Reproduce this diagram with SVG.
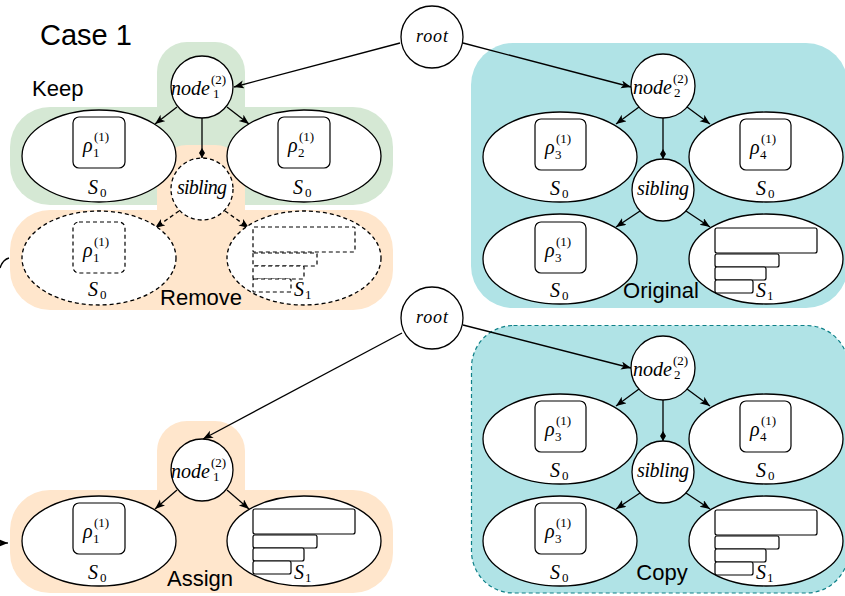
<svg xmlns="http://www.w3.org/2000/svg" width="845" height="596" viewBox="0 0 845 596">
<style>
.ell{fill:#fff;stroke:#000;stroke-width:1.3}
.dash{stroke-dasharray:4 3}
.box{fill:#fff;stroke:#000;stroke-width:1.2}
.bar{fill:#fff;stroke:#000;stroke-width:1.2}
.mi{font-family:"Liberation Serif","Times New Roman",serif;font-style:italic;font-size:20px;fill:#000}
.sm{font-family:"Liberation Serif","Times New Roman",serif;font-size:13px;fill:#000}
.lbl{font-family:"Liberation Sans",Arial,sans-serif;font-size:22px;fill:#000}
.edge{fill:none;stroke:#000;stroke-width:1.3}
</style>
<defs>
<marker id="arr" markerUnits="userSpaceOnUse" markerWidth="12" markerHeight="10" refX="10" refY="4" orient="auto">
<path d="M0,0 L10,4 L0,8 L2.5,4 Z" fill="#000"/>
</marker>
<marker id="dia" markerUnits="userSpaceOnUse" markerWidth="12" markerHeight="8" refX="10" refY="3" orient="auto">
<path d="M0,3 L5,0 L10,3 L5,6 Z" fill="#000"/>
</marker>
</defs>
<rect width="845" height="596" fill="#fff"/>

<g id="backgrounds">
<rect x="157" y="42" width="88" height="120" rx="30" fill="#d5e8d4"/>
<rect x="10" y="107" width="383" height="98" rx="40" fill="#d5e8d4"/>
<rect x="157" y="145" width="88" height="100" rx="30" fill="#ffe6cc"/>
<rect x="10" y="210" width="383" height="100" rx="40" fill="#ffe6cc"/>
<rect x="471" y="43" width="377" height="265" rx="42" fill="#b0e3e6"/>
<rect x="157" y="421" width="88" height="100" rx="30" fill="#ffe6cc"/>
<rect x="10" y="490" width="383" height="103" rx="40" fill="#ffe6cc"/>
<rect x="471.5" y="325.5" width="377" height="267.5" rx="42" fill="#b0e3e6" stroke="#0e8088" stroke-width="1.2" stroke-dasharray="4 3"/>
</g>

<g id="labels">
<text class="lbl" x="40" y="45" style="font-size:29px">Case 1</text>
<text class="lbl" x="32" y="96">Keep</text>
<text class="lbl" x="201" y="305" text-anchor="middle">Remove</text>
<text class="lbl" x="661" y="298" text-anchor="middle">Original</text>
<text class="lbl" x="200" y="586" text-anchor="middle">Assign</text>
<text class="lbl" x="662" y="580" text-anchor="middle">Copy</text>
</g>

<g id="connectors">
<path class="edge" d="M400,43 L234,87" marker-end="url(#arr)"/>
<path class="edge" d="M463,43 L631,87" marker-end="url(#arr)"/>
<path class="edge" d="M402,333 L203,439" marker-end="url(#arr)"/>
<path class="edge" d="M463,325 L631,368" marker-end="url(#arr)"/>
<path class="edge" d="M177,107 L155,124" marker-end="url(#arr)"/>
<path class="edge" d="M227,107 L249,124" marker-end="url(#arr)"/>
<path class="edge" d="M202,118 L202,158" marker-end="url(#dia)"/>
<path class="edge dash" d="M179,211 L155,228" marker-end="url(#arr)"/>
<path class="edge dash" d="M225,211 L249,228" marker-end="url(#arr)"/>
<path class="edge" d="M639,107 L616,124" marker-end="url(#arr)"/>
<path class="edge" d="M687,107 L710,124" marker-end="url(#arr)"/>
<path class="edge" d="M663,118 L663,159" marker-end="url(#dia)"/>
<path class="edge" d="M640,211 L616,227" marker-end="url(#arr)"/>
<path class="edge" d="M686,211 L710,227" marker-end="url(#arr)"/>
<path class="edge" d="M639,389 L616,406" marker-end="url(#arr)"/>
<path class="edge" d="M687,389 L710,406" marker-end="url(#arr)"/>
<path class="edge" d="M663,400 L663,441" marker-end="url(#dia)"/>
<path class="edge" d="M640,493 L616,509" marker-end="url(#arr)"/>
<path class="edge" d="M686,493 L710,509" marker-end="url(#arr)"/>
<path class="edge" d="M177,490 L155,509" marker-end="url(#arr)"/>
<path class="edge" d="M227,490 L249,509" marker-end="url(#arr)"/>
<path class="edge" d="M0,268 C2,262 5,259 9,258"/>
<path class="edge" d="M-12,543 L8,543" marker-end="url(#arr)"/>
</g>

<!-- Keep / Remove block -->
<g id="root1">
<circle class="ell" cx="432" cy="37" r="31"/>
<text class="mi" x="432" y="42" text-anchor="middle" textLength="32" lengthAdjust="spacing" style="font-size:18px">root</text>
</g>
<g id="node1a">
<circle class="ell" cx="202" cy="87" r="31"/>
<text class="mi" x="171" y="95" textLength="39" lengthAdjust="spacing">node</text>
<text class="sm" x="211" y="84">(2)</text>
<text class="sm" x="213" y="98">1</text>
</g>
<g id="keepS0a">
<ellipse class="ell" cx="99" cy="156" rx="77" ry="46"/>
<rect class="box" x="73" y="117" width="52" height="51" rx="6"/>
<text class="mi" x="83" y="152">ρ</text><text class="sm" x="94" y="141">(1)</text><text class="sm" x="93" y="157">1</text>
<text class="mi" x="88" y="194">S</text><text class="sm" x="100" y="197">0</text>
</g>
<g id="keepS0b">
<ellipse class="ell" cx="304" cy="156" rx="77" ry="46"/>
<rect class="box" x="278" y="117" width="52" height="51" rx="6"/>
<text class="mi" x="288" y="152">ρ</text><text class="sm" x="299" y="141">(1)</text><text class="sm" x="298" y="157">2</text>
<text class="mi" x="293" y="194">S</text><text class="sm" x="305" y="197">0</text>
</g>
<g id="sibling1">
<circle class="ell dash" cx="202" cy="189" r="31"/>
<text class="mi" x="202" y="194" text-anchor="middle" textLength="50" lengthAdjust="spacing">sibling</text>
</g>
<g id="removeS0">
<ellipse class="ell dash" cx="99" cy="258" rx="77" ry="47"/>
<rect class="box dash" x="73" y="222" width="52" height="51" rx="6"/>
<text class="mi" x="83" y="257">ρ</text><text class="sm" x="94" y="246">(1)</text><text class="sm" x="93" y="262">1</text>
<text class="mi" x="88" y="296">S</text><text class="sm" x="100" y="299">0</text>
</g>
<g id="removeS1">
<ellipse class="ell dash" cx="304" cy="258" rx="77" ry="47"/>
<rect class="bar dash" x="253" y="227" width="102" height="25" rx="1"/>
<rect class="bar dash" x="253" y="253" width="64" height="13" rx="1"/>
<rect class="bar dash" x="253" y="266" width="51" height="13" rx="1"/>
<rect class="bar dash" x="253" y="279" width="38" height="13" rx="1"/>
<text class="mi" x="294" y="296">S</text><text class="sm" x="305" y="299">1</text>
</g>

<!-- Original block -->
<g id="node2a">
<circle class="ell" cx="663" cy="86" r="32"/>
<text class="mi" x="633" y="94" textLength="39" lengthAdjust="spacing">node</text>
<text class="sm" x="673" y="83">(2)</text>
<text class="sm" x="674" y="97">2</text>
</g>
<g id="origS0a">
<ellipse class="ell" cx="560" cy="157" rx="77" ry="45"/>
<rect class="box" x="535" y="119" width="51" height="51" rx="6"/>
<text class="mi" x="545" y="154">ρ</text><text class="sm" x="556" y="143">(1)</text><text class="sm" x="555" y="159">3</text>
<text class="mi" x="550" y="195">S</text><text class="sm" x="562" y="198">0</text>
</g>
<g id="origS0b">
<ellipse class="ell" cx="766" cy="157" rx="77" ry="45"/>
<rect class="box" x="740" y="119" width="51" height="51" rx="6"/>
<text class="mi" x="750" y="154">ρ</text><text class="sm" x="761" y="143">(1)</text><text class="sm" x="760" y="159">4</text>
<text class="mi" x="756" y="195">S</text><text class="sm" x="768" y="198">0</text>
</g>
<g id="sibling2">
<circle class="ell" cx="663" cy="190" r="31"/>
<text class="mi" x="663" y="195" text-anchor="middle" textLength="52" lengthAdjust="spacing">sibling</text>
</g>
<g id="origS0c">
<ellipse class="ell" cx="560" cy="259" rx="77" ry="45"/>
<rect class="box" x="535" y="222" width="51" height="51" rx="6"/>
<text class="mi" x="545" y="257">ρ</text><text class="sm" x="556" y="246">(1)</text><text class="sm" x="555" y="262">3</text>
<text class="mi" x="550" y="297">S</text><text class="sm" x="562" y="300">0</text>
</g>
<g id="origS1">
<ellipse class="ell" cx="766" cy="259" rx="77" ry="45"/>
<rect class="bar" x="715" y="228" width="102" height="25" rx="2"/>
<rect class="bar" x="715" y="254" width="64" height="13" rx="2"/>
<rect class="bar" x="715" y="267" width="51" height="13" rx="2"/>
<rect class="bar" x="715" y="280" width="38" height="13" rx="2"/>
<text class="mi" x="756" y="297">S</text><text class="sm" x="767" y="300">1</text>
</g>

<!-- Copy block -->
<g id="root2">
<circle class="ell" cx="432" cy="318" r="31"/>
<text class="mi" x="432" y="323" text-anchor="middle" textLength="32" lengthAdjust="spacing" style="font-size:18px">root</text>
</g>
<g id="node2b">
<circle class="ell" cx="663" cy="368" r="32"/>
<text class="mi" x="633" y="376" textLength="39" lengthAdjust="spacing">node</text>
<text class="sm" x="673" y="365">(2)</text>
<text class="sm" x="674" y="379">2</text>
</g>
<g id="copyS0a">
<ellipse class="ell" cx="560" cy="439" rx="77" ry="45"/>
<rect class="box" x="535" y="401" width="51" height="51" rx="6"/>
<text class="mi" x="545" y="436">ρ</text><text class="sm" x="556" y="425">(1)</text><text class="sm" x="555" y="441">3</text>
<text class="mi" x="550" y="477">S</text><text class="sm" x="562" y="480">0</text>
</g>
<g id="copyS0b">
<ellipse class="ell" cx="766" cy="439" rx="77" ry="45"/>
<rect class="box" x="740" y="401" width="51" height="51" rx="6"/>
<text class="mi" x="750" y="436">ρ</text><text class="sm" x="761" y="425">(1)</text><text class="sm" x="760" y="441">4</text>
<text class="mi" x="756" y="477">S</text><text class="sm" x="768" y="480">0</text>
</g>
<g id="sibling3">
<circle class="ell" cx="663" cy="472" r="31"/>
<text class="mi" x="663" y="477" text-anchor="middle" textLength="52" lengthAdjust="spacing">sibling</text>
</g>
<g id="copyS0c">
<ellipse class="ell" cx="560" cy="541" rx="77" ry="45"/>
<rect class="box" x="535" y="503" width="51" height="51" rx="6"/>
<text class="mi" x="545" y="538">ρ</text><text class="sm" x="556" y="527">(1)</text><text class="sm" x="555" y="543">3</text>
<text class="mi" x="550" y="579">S</text><text class="sm" x="562" y="582">0</text>
</g>
<g id="copyS1">
<ellipse class="ell" cx="766" cy="541" rx="77" ry="45"/>
<rect class="bar" x="715" y="510" width="102" height="25" rx="2"/>
<rect class="bar" x="715" y="536" width="64" height="13" rx="2"/>
<rect class="bar" x="715" y="549" width="51" height="13" rx="2"/>
<rect class="bar" x="715" y="562" width="38" height="13" rx="2"/>
<text class="mi" x="756" y="579">S</text><text class="sm" x="767" y="582">1</text>
</g>

<!-- Assign block -->
<g id="node1b">
<circle class="ell" cx="202" cy="470" r="31"/>
<text class="mi" x="171" y="478" textLength="39" lengthAdjust="spacing">node</text>
<text class="sm" x="211" y="467">(2)</text>
<text class="sm" x="213" y="481">1</text>
</g>
<g id="assignS0">
<ellipse class="ell" cx="99" cy="541" rx="77" ry="45"/>
<rect class="box" x="73" y="503" width="52" height="51" rx="6"/>
<text class="mi" x="83" y="538">ρ</text><text class="sm" x="94" y="527">(1)</text><text class="sm" x="93" y="543">1</text>
<text class="mi" x="88" y="579">S</text><text class="sm" x="100" y="582">0</text>
</g>
<g id="assignS1">
<ellipse class="ell" cx="304" cy="541" rx="77" ry="45"/>
<rect class="bar" x="253" y="509" width="102" height="25" rx="2"/>
<rect class="bar" x="253" y="535" width="64" height="13" rx="2"/>
<rect class="bar" x="253" y="548" width="51" height="13" rx="2"/>
<rect class="bar" x="253" y="561" width="38" height="13" rx="2"/>
<text class="mi" x="294" y="579">S</text><text class="sm" x="305" y="582">1</text>
</g>
</svg>
